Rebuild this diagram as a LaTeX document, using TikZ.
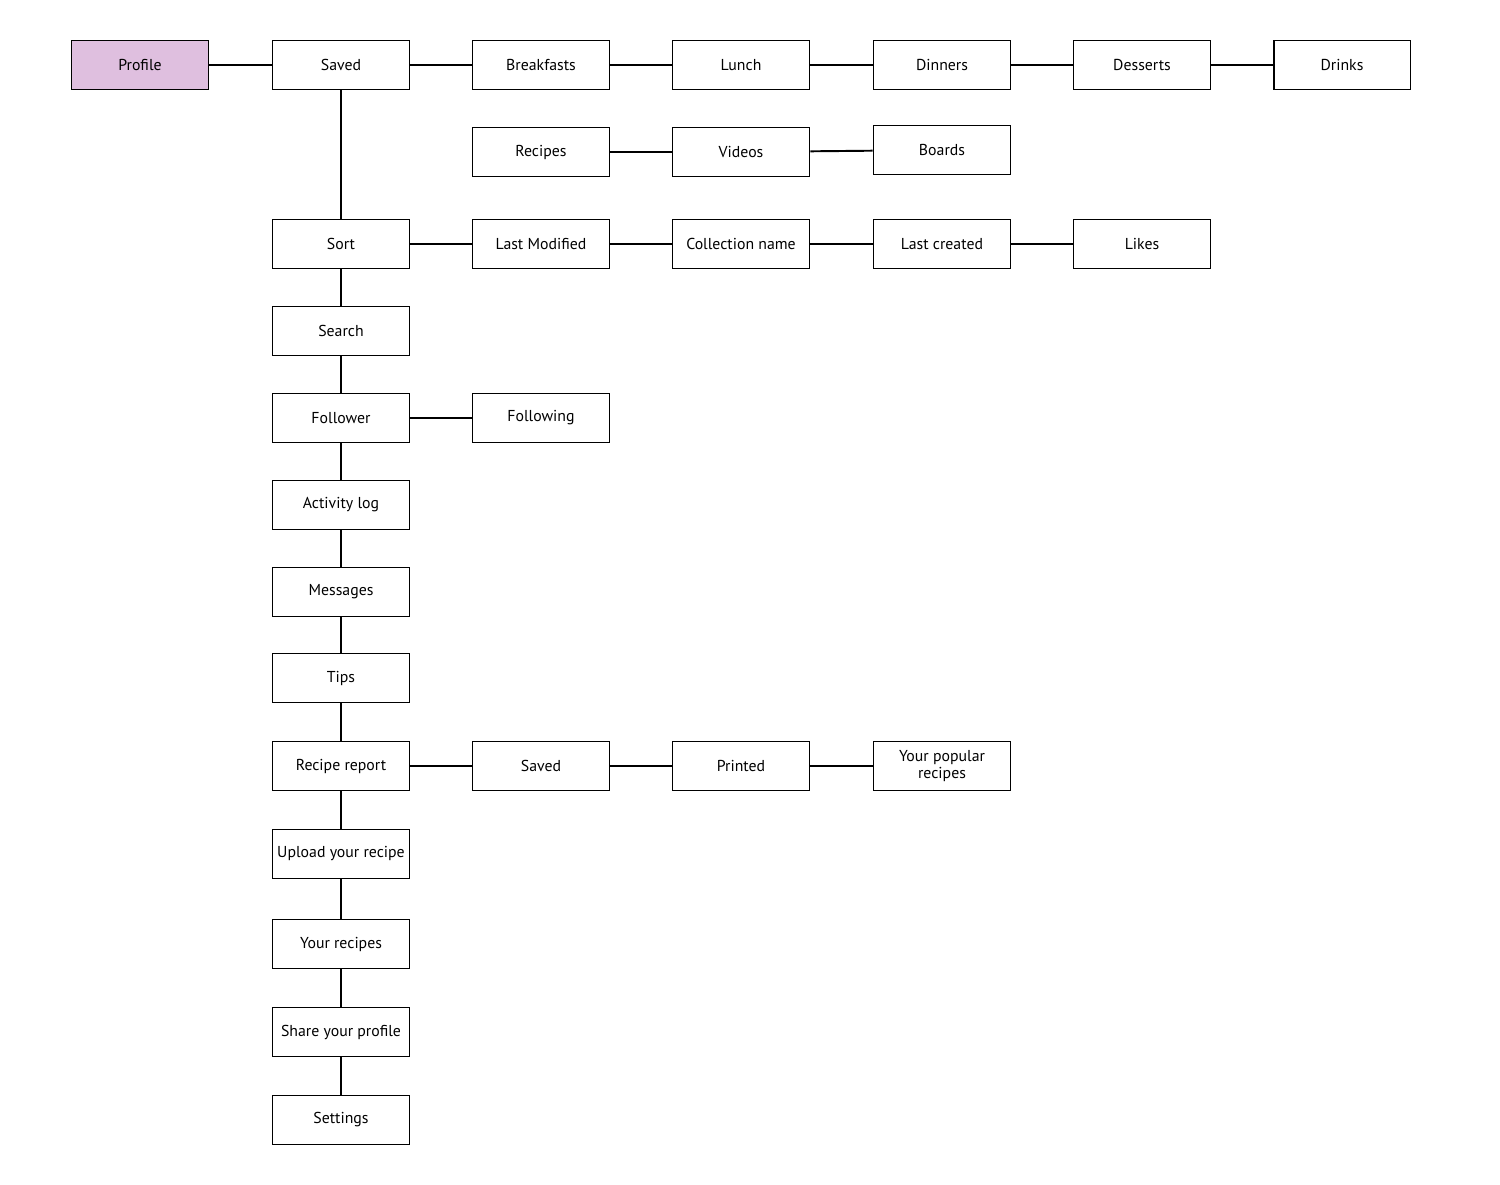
\documentclass[tikz,border=0pt]{standalone}
\usepackage{fontspec}
\setmainfont{PT Sans}
\usetikzlibrary{positioning}
\tikzset{
  box/.style={draw, line width=1.1pt, minimum width=2.74cm, minimum height=0.98cm,
    inner sep=1pt, align=center, font=\fontsize{9}{10}\selectfont},
  link/.style={line width=1.1pt}
}
\begin{document}
\begin{tikzpicture}[x=0.02cm, y=-0.02cm]
  \useasboundingbox (0,0) rectangle (1500,1184);

  % top row
  \node[box, fill=violet!25] (profile) at (140,65) {Profile};
  \node[box] (saved) at (341,65) {Saved};
  \node[box] (breakfasts) at (541,65) {Breakfasts};
  \node[box] (lunch) at (741,65) {Lunch};
  \node[box] (dinners) at (942,65) {Dinners};
  \node[box] (desserts) at (1142,65) {Desserts};
  \node[box] (drinks) at (1342,65) {Drinks};

  % saved types
  \node[box] (recipes) at (541,152) {Recipes};
  \node[box] (videos) at (741,152) {Videos};
  \node[box] (boards) at (942,150) {Boards};

  % main column
  \node[box] (sort) at (341,244) {Sort};
  \node[box] (search) at (341,331) {Search};
  \node[box] (follower) at (341,418) {Follower};
  \node[box] (activity) at (341,505) {Activity log};
  \node[box] (messages) at (341,592) {Messages};
  \node[box] (tips) at (341,678) {Tips};
  \node[box] (report) at (341,766) {Recipe report};
  \node[box] (upload) at (341,854) {Upload your recipe};
  \node[box] (yours) at (341,944) {Your recipes};
  \node[box] (share) at (341,1032) {Share your profile};
  \node[box] (settings) at (341,1120) {Settings};

  % side branches
  \node[box] (lastmod) at (541,244) {Last Modified};
  \node[box] (collection) at (741,244) {Collection name};
  \node[box] (lastcreated) at (942,244) {Last created};
  \node[box] (likes) at (1142,244) {Likes};
  \node[box] (following) at (541,418) {Following};
  \node[box] (rsaved) at (541,766) {Saved};
  \node[box] (printed) at (741,766) {Printed};
  \node[box] (popular) at (942,766) {Your popular\\recipes};

  % connectors
  \foreach \a/\b in {profile/saved, saved/breakfasts, breakfasts/lunch, lunch/dinners,
      dinners/desserts, desserts/drinks, recipes/videos, videos/boards,
      sort/lastmod, lastmod/collection, collection/lastcreated, lastcreated/likes,
      follower/following, report/rsaved, rsaved/printed, printed/popular}
    \draw[link] (\a) -- (\b);
  \foreach \a/\b in {saved/sort, sort/search, search/follower, follower/activity,
      activity/messages, messages/tips, tips/report, report/upload, upload/yours,
      yours/share, share/settings}
    \draw[link] (\a) -- (\b);
\end{tikzpicture}
\end{document}
